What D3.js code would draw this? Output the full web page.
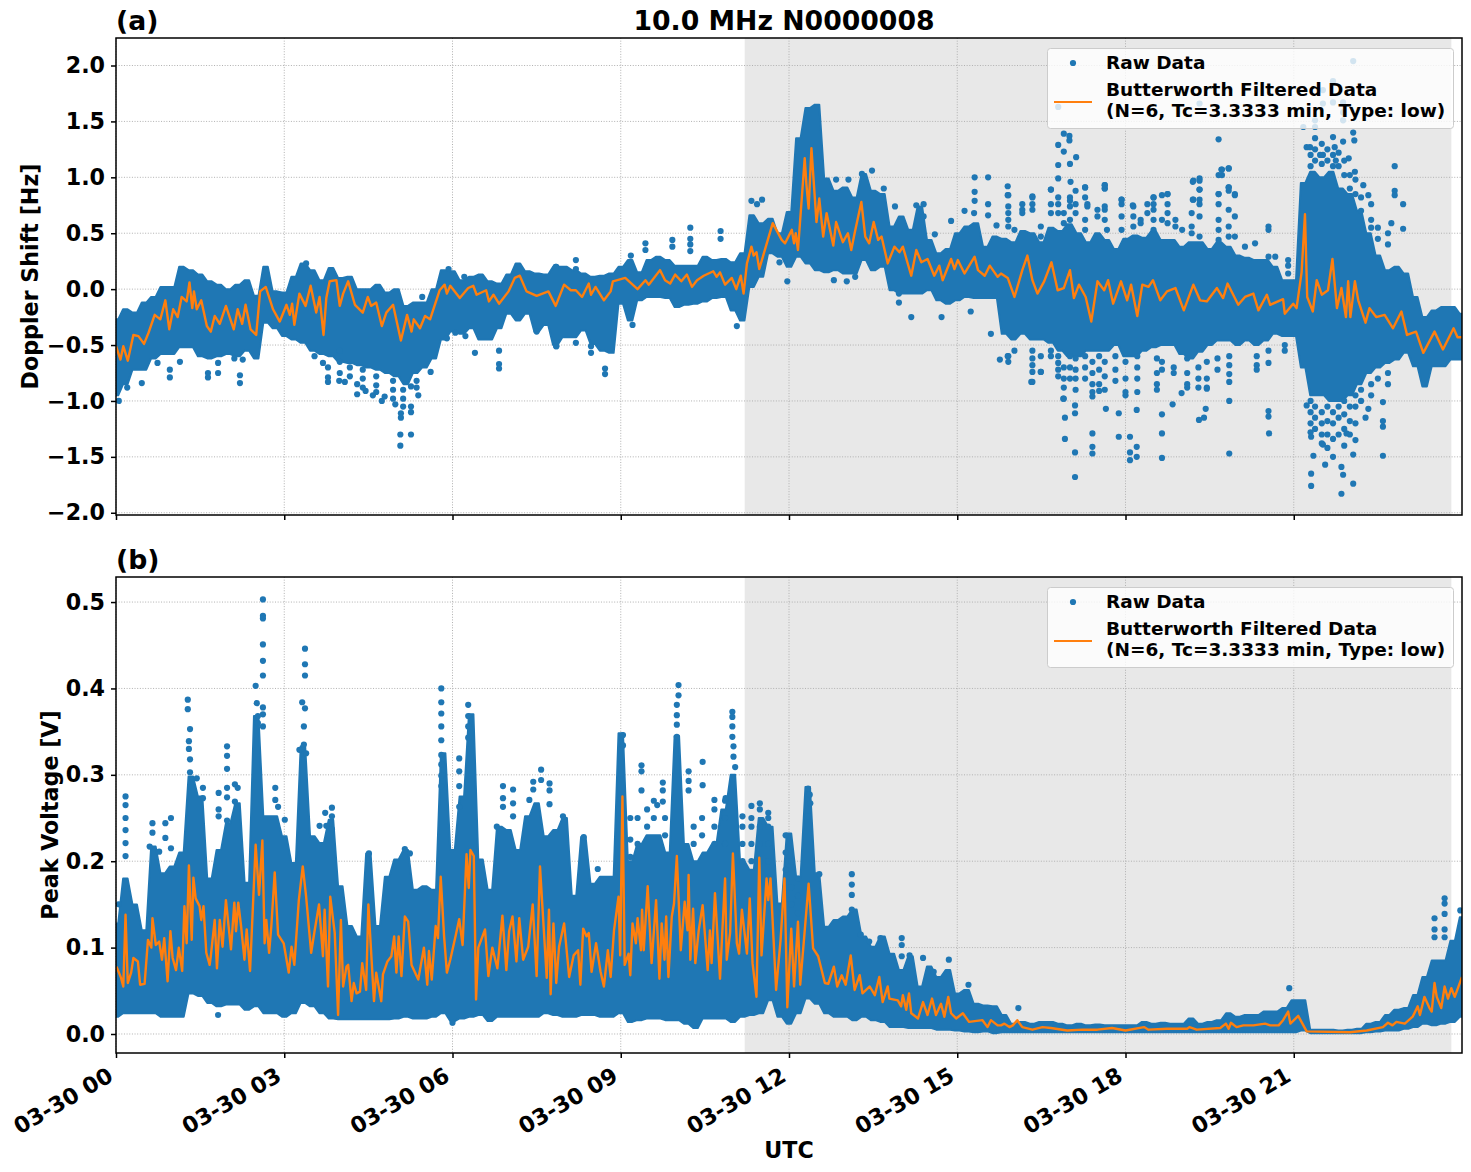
<!DOCTYPE html>
<html>
<head>
<meta charset="utf-8">
<script src="https://cdn.jsdelivr.net/npm/d3@7"></script>
<style>
html,body{margin:0;padding:0;background:#fff}
svg{display:block}
text{font-family:"DejaVu Sans",sans-serif;font-weight:700;fill:#000}
</style>
</head>
<body>
<svg id="fig" width="1471" height="1172"></svg>
<script>
// Tick positions and labels
const hourTicks = [0,3,6,9,12,15,18,21];
const dopplerTicks = [-2,-1.5,-1,-0.5,0,0.5,1,1.5,2];
const voltageTicks = [0,0.1,0.2,0.3,0.4,0.5];
const nightStartHour = 11.21, nightEndHour = 23.81;

// Doppler shift: dense range of the raw samples, one entry per 10 minutes
const dopplerHigh = [-.27,-.18,-.21,-.12,-.07,.02,.02,.2,.17,.13,.07,.04,0,.04,.08,-.06,.2,-.02,-.03,.11,.23,.17,.08,.19,.1,.11,0,0,.04,-.03,0,-.15,-.12,-.12,0,.17,.16,.08,.11,.13,.07,.05,.13,.23,.16,.14,.13,.2,
 .2,.17,.14,.11,.12,.14,.2,.26,.15,.26,.29,.26,.21,.21,.21,.29,.26,.27,.24,.32,.66,.59,.63,.5,.69,1.35,1.62,1.65,.99,.88,.91,.82,1.03,.88,.85,.56,.65,.53,.74,.44,.32,.36,.5,.56,.59,.38,.47,
 .45,.42,.52,.5,.42,.55,.52,.58,.5,.42,.5,.44,.36,.45,.48,.46,.52,.44,.44,.38,.42,.42,.36,.42,.38,.3,.28,.26,.26,.2,.08,.08,.95,1.05,1,1.05,.9,.85,.7,.5,.3,.17,.2,.14,-.07,-.25,-.19,-.16,-.16,-.22];
const dopplerLow = [-.95,-.85,-.72,-.72,-.62,-.58,-.58,-.52,-.52,-.6,-.62,-.6,-.58,-.6,-.55,-.62,-.3,-.35,-.42,-.45,-.48,-.55,-.58,-.6,-.65,-.66,-.68,-.7,-.72,-.75,-.78,-.85,-.75,-.7,-.62,-.45,-.38,-.4,-.35,-.45,-.45,-.35,-.22,-.28,-.22,-.38,-.32,-.5,
 -.43,-.43,-.37,-.49,-.55,-.57,-.13,-.28,-.1,-.07,-.07,-.08,-.16,-.14,-.13,-.11,-.08,-.07,-.19,-.28,.02,.11,.32,.29,.2,.29,.23,.17,.15,.17,.14,.14,.26,.17,.2,-.01,-.04,-.04,-.04,-.01,-.1,-.13,-.1,-.07,-.08,-.08,-.08,
 -.4,-.45,-.4,-.45,-.45,-.48,-.55,-.6,-.6,-.55,-.55,-.55,-.5,-.6,-.6,-.55,-.52,-.5,-.5,-.58,-.62,-.56,-.5,-.46,-.46,-.5,-.46,-.5,-.46,-.4,-.42,-.42,-.7,-.95,-.95,-1,-1,-.95,-.85,-.75,-.7,-.66,-.63,-.57,-.69,-.87,-.69,-.69,-.63,-.63];

// Doppler shift: individual samples standing clear of the dense range [hour, Hz]
const dopplerStray = [[16.8,1.63],[16.9,1.39],[17,1.37],[17,1.33],[16.8,1.29],[16.9,1.23],[17.12,1.18],[17.01,1.12],[16.8,1.11],[16.8,.99],[17.02,.96],[15.9,.92],[15.9,.84],[16.34,.83],[16.67,.89],[17.28,.91],[17.63,.93],[17.63,.9],[17.93,.8],[18.13,.75],[18.5,.82],[18.75,.85],[19.2,.96],[19.32,.99],[19.32,.89],[19.2,.8],[19.66,1.34],[19.71,1.07],[19.66,1.02],[19.84,1.08],[19.84,.91],[19.95,.85],[19.66,.85],[19.32,1.66],[22.8,1.1],[22.8,.88],[22.8,.84],[22.95,.76],[22.74,.59],[22.95,.54],[22.38,.76],[22.33,.84],[22.24,.93],[22.09,1.05],
 [21.47,1.2],[21.7,1.86],[21.52,1.78],[21.7,1.67],[21.38,1.45],[21.88,1.51],[22.06,1.4],[22.08,1.33],[21.7,1.36],[21.38,1.35],[21.23,1.27],[21.88,1.32],[21.98,1.17],[21.73,1.27],[21.29,1.27],[21.52,1.2],[21.75,1.15],[22.06,2.04],[21.88,1.67],[21.88,1.58],[21.52,1.66],[21.38,1.51],[21.17,1.45],
 [17.1,-1.68],[17.1,-1.46],[16.92,-1.34],[16.92,-1.15],[17.1,-1.11],[17.1,-1.04],[17.41,-1.29],[17.41,-1.41],[17.41,-1.47],[17.88,-1.32],[18.08,-1.32],[18.08,-1.46],[18.08,-1.53],[18.2,-1.41],[18.2,-1.5],[18.65,-1.51],[18.65,-1.29],[18.65,-1.12],[18.2,-1.08],[17.88,-1.11],[17.65,-1.07],[16.89,-.98],[19.85,-1.47],[19.85,-1],[20.56,-1.29],[20.55,-1.14],[20.55,-1.09],[19.31,-1.17],[19.4,-1.15],[19.43,-1.07],[18.84,-1.03],[19,-.93],[19.1,-.88],[19.45,-.89],[18,-.95],[17.41,-.96],[17.53,-.91],[16.32,-.83],[16.49,-.74],
 [21.31,-1.65],[21.31,-1.76],[21.85,-1.83],[21.88,-1.66],[22.06,-1.74],[21.85,-1.59],[21.56,-1.57],[21.35,-1.49],[21.7,-1.5],[22.06,-1.48],[22.59,-1.49],[22.59,-1.23],[22.59,-1.18],[22.59,-1.01],[22.28,-1.15],[22.33,-1.07],[21.52,-1.39],[21.31,-1.32],[21.94,-1.29],[21.23,-1.04],[15.9,-.6],
 [11.33,.79],[11.43,.76],[11.52,.8],[10.24,.55],[10.78,.52],[10.78,.45],[10.24,.45],[10.24,.4],[10.24,.34],[9.92,.44],[9.92,.38],[9.44,.41],[9.44,.35],[9.18,.3],[8.2,.26],[8.2,.18],[7.85,.2],[8.72,-.71],[8.72,-.76],[8.47,-.51],[8.47,-.57],[7.85,-.51],[8.2,-.48],[11.07,-.33],[9.21,-.32],[12.8,.08],[11.97,.07],[13.03,.07],[13.18,.11],[14.18,-.25],[13.96,-.12],[13.96,-.04],[14.72,-.25],[15.24,-.2],[15.6,-.4],[15.76,-.63],[15.55,1],[15.31,1],[15.31,.87],[13.48,1.06],[13.3,1.03],[13.69,.9],[12.84,.98],[13.06,.98],[13.89,.74],[14.27,.75],[14.4,.76],[14.6,.49],[14.89,.61],[15.13,.7],[15.55,.76],[15.55,.66],[15.7,.57],[14.4,.65],[15.3,.68],[15.31,.79],[11.83,.24],
 [.05,-1],[.74,-.66],[.96,-.79],[.96,-.72],[1.14,-.65],[.46,-.84],[.2,-.88],[1.64,-.79],[1.64,-.75],[1.82,-.75],[1.82,-.66],[2.21,-.84],[2.21,-.77],[2.26,-.63],[2.11,-.62],[3.39,.23],[5.93,.18],[6.21,.11],[7.84,.2],[5.46,-.07],[3.78,-.7],[3.78,-.79],[3.78,-.83],[3.98,-.82],[4.08,-.83],[4.3,-.94],[4.3,-.85],[4.58,-.95],[4.74,-1],[4.79,-.96],[4.98,-1.03],[5.08,-1.15],[5.08,-1.11],[5.07,-1.3],[5.07,-1.4],[5.26,-1.3],[5.26,-1.05],[5.26,-1.1],[5.39,-.95],[5.26,-.87],[5.61,-.74],[5.9,-.44],[6.4,-.57],[6.83,-.55],[6.83,-.67],[6.83,-.71],[6.05,-.39],[6.23,-.42],[3.54,-.6],[3.69,-.66],[7.5,-.38],[7.85,-.51],[4.45,-.91],
 [3.99,-.55],[3.99,-.65],[3.99,-.75],[4.17,-.7],[4.17,-.78],[4.4,-.72],[4.4,-.8],[4.4,-.88],[4.64,-.78],[4.64,-.86],[4.64,-.92],[4.94,-.82],[4.94,-.9],[4.94,-.98],[5.12,-.9],[5.12,-.98],[5.12,-1.05],[5.36,-.82],[5.36,-.88]];

// Doppler shift: sparse samples around the dense range, 16-21 UT, [hour, [Hz...]]
const dopplerSparse = [[15.91,[.56,.62,.68,.74,.84,-.6,-.65]],[16.02,[.53,-.55]],[16.16,[.68,.71,.76]],[16.34,[.71,.76,.82,-.55,-.62,-.68,-.74,-.83]],[16.49,[.47,.56,-.6,-.74]],[16.67,[.68,.76,.89,-.55,-.6]],[16.8,[.68,.76,.82,-.6,-.66,-.72,-.78]],[16.9,[.59,.68,-.7,-.8,-.88,-.98]],[17.01,[.62,.74,.79,.82,-.6,-.7,-.8]],[17.11,[.68,.76,.88,-.62,-.72,-.8,-.9]],[17.28,[.53,.62,.82,.91,-.6,-.7,-.8]],[17.32,[.74,.76]],[17.41,[-.65,-.75,-.85,-.92]],[17.5,[.65,.71]],[17.53,[-.6,-.72,-.85]],[17.63,[.62,.71,.74,.9,.93,-.65,-.78,-.9]],[17.67,[.53]],[17.82,[-.6,-.72,-.82]],[17.93,[.53,.65,.76,.8]],[18,[-.65,-.8,-.92]],[18.14,[.56,.65,.74]],[18.21,[-.6,-.7,-.8,-.92]],[18.27,[.59,.62]],[18.39,[.68,.76]],[18.5,[.53,.62,.71,.76,.82]],[18.56,[-.62,-.75,-.85,-.9]],[18.65,[.62,.84,-.65,-.72]],[18.75,[.59,.68,.76,.85]],[18.86,[-.7,-.75]],[18.89,[.56,.62]],[19.01,[.53]],[19.1,[-.62,-.75,-.85]],[19.18,[.5,.56,.68]],[19.21,[.8,.97]],[19.3,[-.7,-.8,-.88]],[19.32,[.47,.65,.76,.8,.89,.97]],[19.45,[-.65,-.8,-.88]],[19.64,[-.62,-.72]],[19.66,[.44,.53,.62,.76,.85]],[19.72,[1.02,1.07]],[19.84,[.47,.56,.71,.88,.91,1.08]],[19.85,[-.6,-.68,-.76,-.83]],[19.95,[.47,.65,.84]],[20.13,[.38]],[20.31,[.41]],[20.34,[-.6,-.68,-.72]],[20.55,[.29,.53,.56,-.55,-.66]],[20.67,[.29]],[20.84,[-.5,-.55]],[20.9,[.14,.21,.26]],
 [21.3,[1.1,1.2,-1,-1.1,-1.2,-1.28]],[21.38,[1.15,1.25,-1.05,-1.15,-1.25]],[21.5,[1.12,1.3,-1.1,-1.2,-1.3,-1.38]],[21.6,[1.15,1.25,-1.05,-1.18,-1.3,-1.42]],[21.7,[1.1,1.2,-1.1,-1.2,-1.34]],[21.8,[1.1,1.22,-1.05,-1.15,-1.3]],[21.9,[1.02,1.15,-1,-1.12,-1.25,-1.4]],[22,[.9,1.02,-1.05,-1.18,-1.3]],[22.1,[.85,.98,-.95,-1.05,-1.2,-1.35]],[22.2,[.7,.82,-.9,-1]],[22.38,[.55,.62,-.85,-.95]],[22.5,[.45,.55,-.8]],[22.68,[.4,.5,-.75,-.85]]];

// Doppler shift: low-pass filtered trace [hour, Hz]
const dopplerFiltered = [[0,-.51],[.08,-.63],[.13,-.51],[.21,-.64],[.31,-.41],[.4,-.42],[.5,-.49],[.58,-.39],[.69,-.23],[.79,-.27],[.88,-.1],[.95,-.36],[1.02,-.18],[1.1,-.25],[1.17,-.07],[1.26,-.11],[1.31,.06],[1.36,-.17],[1.39,-.02],[1.44,-.18],[1.52,-.1],[1.62,-.33],[1.69,-.38],[1.76,-.24],[1.85,-.31],[1.96,-.15],[2.1,-.36],[2.17,-.18],[2.25,-.31],[2.31,-.14],[2.4,-.36],[2.5,-.41],[2.57,-.02],[2.67,.02],[2.8,-.18],[2.92,-.29],[3.04,-.14],[3.1,-.23],[3.14,-.13],[3.18,-.32],[3.27,-.04],[3.38,-.15],[3.47,.03],[3.57,-.21],[3.63,-.07],[3.7,-.41],[3.75,-.08],[3.81,.07],[3.93,.08],[3.99,-.15],[4.05,-.04],[4.14,.07],[4.26,-.14],[4.4,-.21],[4.49,-.07],[4.55,-.15],[4.64,-.12],[4.74,-.33],[4.82,-.21],[4.94,-.14],[5.08,-.46],[5.19,-.23],[5.27,-.38],[5.31,-.27],[5.42,-.35],[5.51,-.24],[5.6,-.27],[5.77,-.01],[5.86,.04],[5.9,-.04],[5.96,.03],[6.13,-.08],[6.28,.01],[6.37,.03],[6.43,-.05],[6.6,-.01],[6.65,-.11],[6.73,-.05],[6.83,-.13],[7,-.02],[7.11,.1],[7.2,.12],[7.32,-.02],[7.5,-.06],[7.71,-.02],[7.84,-.15],
 [7.99,.04],[8.11,-.01],[8.2,-.01],[8.31,-.07],[8.43,.05],[8.47,-.05],[8.55,.02],[8.7,-.1],[8.82,-.02],[8.86,.07],[9.08,.1],[9.3,0],[9.44,.08],[9.5,.04],[9.7,.17],[9.79,.08],[9.88,.05],[9.97,.13],[10.08,.07],[10.18,.13],[10.27,.02],[10.36,.08],[10.48,.12],[10.65,.16],[10.71,.11],[10.77,.15],[10.86,.04],[10.98,.1],[11.06,0],[11.14,.12],[11.19,-.04],[11.25,.23],[11.33,.38],[11.37,.3],[11.42,.33],[11.47,.18],[11.54,.3],[11.71,.59],[11.87,.44],[11.93,.41],[12.05,.53],[12.09,.41],[12.12,.5],[12.16,.35],[12.28,1.17],[12.31,.94],[12.35,.72],[12.4,1.26],[12.49,.6],[12.54,.81],[12.61,.47],[12.67,.68],[12.79,.39],[12.84,.6],[12.96,.42],[13.05,.5],[13.11,.35],[13.17,.5],[13.29,.78],[13.36,.47],[13.43,.41],[13.51,.6],[13.59,.44],[13.65,.47],[13.76,.23],[13.88,.38],[13.97,.33],[14.03,.38],[14.18,.12],[14.27,.35],[14.36,.24],[14.47,.27],[14.59,.12],[14.68,.21],[14.74,.08],[14.89,.27],[14.95,.18],[15.01,.26],[15.13,.14],[15.31,.29],[15.37,.17],[15.49,.12],[15.58,.21],[15.72,.11],
 [15.78,.14],[15.9,.1],[16.02,-.07],[16.16,.17],[16.25,.3],[16.34,.08],[16.43,-.04],[16.55,.07],[16.68,.24],[16.79,-.01],[16.9,.01],[17.01,.17],[17.08,-.08],[17.17,.04],[17.29,-.07],[17.39,-.29],[17.5,.07],[17.62,-.01],[17.69,.08],[17.78,-.13],[17.92,.07],[18.03,-.1],[18.1,.04],[18.21,-.24],[18.3,.04],[18.41,.02],[18.49,.08],[18.62,-.1],[18.74,-.02],[18.89,.01],[19.04,-.19],[19.21,.04],[19.33,-.1],[19.45,-.11],[19.63,.01],[19.74,-.08],[19.82,.05],[20.01,-.14],[20.13,-.07],[20.28,-.04],[20.37,-.19],[20.52,-.05],[20.58,-.14],[20.81,-.09],[20.84,-.22],[20.99,-.13],[21.05,-.17],[21.14,.15],[21.2,.67],[21.24,-.07],[21.34,-.2],[21.41,.08],[21.5,-.05],[21.61,-.01],[21.69,.27],[21.77,-.17],[21.85,.01],[21.93,-.25],[21.97,.07],[22.01,-.25],[22.09,.07],[22.15,-.1],[22.28,-.3],[22.35,-.17],[22.47,-.25],[22.62,-.23],[22.77,-.35],[22.92,-.2],[23.02,-.41],[23.18,-.38],[23.31,-.57],[23.51,-.38],[23.66,-.54],[23.85,-.35],[23.92,-.43],[24,-.43]];

// Peak voltage: dense range of the raw samples, one entry per 10 minutes
const voltageHigh = [.128,.18,.15,.12,.217,.186,.194,.21,.298,.275,.18,.213,.244,.267,.175,.368,.252,.252,.229,.198,.333,.229,.221,.248,.171,.125,.113,.209,.125,.182,.202,.213,.167,.171,.167,.325,.213,.275,.37,.202,.167,.24,.236,.213,.252,.267,.229,.236,
 .25,.16,.228,.174,.182,.182,.348,.2,.22,.23,.23,.21,.345,.22,.2,.21,.22,.26,.3,.2,.19,.25,.24,.151,.232,.182,.286,.186,.124,.132,.136,.144,.113,.101,.113,.093,.074,.09,.055,.078,.066,.074,.047,.051,.035,.033,.032,
 .022,.012,.014,.012,.014,.014,.012,.01,.012,.01,.011,.01,.01,.01,.01,.014,.012,.013,.012,.012,.018,.012,.014,.016,.024,.02,.022,.022,.026,.026,.03,.039,.039,.005,.005,.005,.004,.005,.006,.012,.014,.022,.028,.03,.045,.066,.085,.085,.108,.135];
const voltageLow = [.02,.024,.024,.024,.024,.02,.02,.02,.047,.044,.036,.032,.034,.034,.028,.032,.024,.024,.02,.024,.036,.032,.024,.018,.017,.017,.017,.017,.017,.017,.018,.02,.018,.018,.02,.024,.015,.018,.02,.022,.015,.02,.02,.02,.02,.02,.024,.022,
 .02,.02,.022,.022,.02,.02,.024,.014,.016,.018,.018,.016,.016,.012,.007,.018,.018,.018,.014,.02,.022,.024,.039,.02,.012,.024,.041,.035,.024,.02,.02,.016,.02,.016,.014,.008,.008,.007,.007,.007,.005,.005,.004,.003,.002,.003,.001,
 .002,.002,.002,.002,.002,.002,.002,.002,.002,.002,.002,.002,.002,.002,.002,.002,.002,.002,.002,.002,.002,.002,.002,.002,.002,.002,.002,.002,.002,.002,.002,.002,.004,.001,.001,.001,.001,.001,.001,.002,.003,.004,.004,.006,.008,.012,.01,.012,.014,.02];

// Peak voltage: individual samples standing clear of the dense range [hour, V]
const voltageStray = [[.17,.275],[.17,.265],[.17,.25],[.17,.236],[.17,.221],[.17,.206],[.05,.15],[.65,.244],[.65,.233],[.6,.217],[.77,.211],[.88,.244],[.98,.25],[.88,.227],[.98,.215],[1.28,.387],[1.28,.376],[1.32,.353],[1.3,.339],[1.3,.33],[1.32,.318],[1.32,.303],[1.44,.296],[1.55,.285],[1.55,.273],[1.98,.333],[1.98,.322],[1.98,.307],[1.98,.285],[1.98,.274],[1.98,.247],[1.83,.279],[1.83,.26],[1.83,.252],[2.12,.289],[2.17,.285],[2.12,.269],
 [2.62,.503],[2.62,.484],[2.62,.481],[2.62,.451],[2.62,.432],[2.62,.415],[2.49,.403],[2.51,.383],[2.62,.378],[2.62,.37],[2.53,.368],[2.53,.36],[2.62,.356],[3.37,.446],[3.37,.428],[3.37,.415],[3.32,.384],[3.37,.377],[3.35,.356],[3.35,.335],[3.27,.329],[3.39,.325],[2.84,.285],[2.84,.271],[2.89,.263],[3.01,.248],[3.73,.256],[3.85,.262],[3.85,.252],[3.63,.241],[3.75,.241],[3.85,.237],[4.51,.209],[5.15,.214],[5.24,.209],
 [5.8,.4],[5.8,.384],[5.8,.371],[5.8,.356],[5.8,.34],[5.8,.323],[5.8,.312],[5.8,.299],[5.8,.287],[6.12,.319],[6.12,.304],[6.12,.287],[6.12,.263],[6.28,.381],[6.28,.368],[6.28,.356],[6.28,.343],[6.9,.287],[6.9,.273],[6.9,.263],[7.08,.283],[7.08,.267],[7.08,.252],[7.44,.292],[7.44,.283],[7.58,.306],[7.58,.294],[7.73,.29],[7.73,.282],[7.73,.266],[7.37,.271],[6.79,.24],[1.82,.022],[6,.013],
 [10.03,.404],[10.03,.392],[10,.381],[10,.369],[10,.358],[10,.344],[10.99,.373],[10.99,.367],[10.99,.356],[10.99,.344],[11.01,.333],[11.01,.321],[11.04,.309],[9.04,.346],[9.04,.334],[9.37,.311],[9.37,.304],[9.37,.282],[10.46,.315],[10.46,.288],[10.21,.304],[9.75,.291],[9.75,.282],[9.75,.269],[9.65,.265],[10.21,.293],[10.21,.282],[10.67,.271],[10.87,.273],[11.17,.252],[11.33,.264],[11.48,.267],[11.63,.256],[8.34,.228],[8.59,.191],[7.97,.252],
 [12.34,.284],[12.37,.277],[12.38,.267],[12.34,.252],[13.12,.185],[13.12,.173],[13.12,.161],[13.12,.144],[12.54,.185],[14.01,.111],[14.01,.103],[14.01,.09],[13.28,.115],[13.43,.107],[13.63,.111],[14.39,.088],[14.85,.086],[15.2,.057],[14.58,.072],[14.15,.091],[23.69,.157],[23.69,.151],[23.51,.134],[23.51,.121],[23.69,.139],[23.69,.121],[23.69,.112],[23.51,.112],[23.97,.143],[20.92,.053],[16.09,.03]];

// Peak voltage: sparse sample stacks above the dense range, [hour, [V...]]
const voltageSparse = [[9.17,[.205,.225,.25]],[9.3,[.22,.25]],[9.47,[.24,.26]],[9.59,[.25,.27]],[9.79,[.23,.25]],[10.3,[.22,.24]],[10.45,[.23,.25]],[10.67,[.22,.24,.26]],[10.86,[.22,.25,.27]],[11.17,[.2,.22,.24]],[11.33,[.2,.22,.24,.25]],[11.48,[.2,.22,.24,.26]],[11.63,[.2,.22,.24,.25]],[11.94,[.17,.19,.21,.23]],[12.04,[.15,.17,.2]],[12.16,[.14,.16,.18]]];

// Peak voltage: low-pass filtered trace [hour, V]
const voltageFiltered = [[.01,.078],[.09,.065],[.13,.055],[.17,.138],[.21,.059],[.27,.071],[.31,.088],[.39,.084],[.43,.057],[.51,.058],[.57,.109],[.63,.1],[.65,.134],[.71,.103],[.77,.107],[.82,.086],[.86,.111],[.92,.061],[.97,.119],[1.01,.088],[1.07,.074],[1.12,.1],[1.18,.073],[1.22,.148],[1.26,.105],[1.3,.195],[1.35,.109],[1.38,.181],[1.42,.157],[1.49,.148],[1.52,.132],[1.56,.148],[1.61,.094],[1.67,.08],[1.69,.09],[1.76,.132],[1.8,.076],[1.85,.132],[1.9,.101],[1.96,.155],[2.05,.098],[2.11,.152],[2.14,.119],[2.18,.152],[2.23,.125],[2.29,.086],[2.33,.121],[2.39,.073],[2.49,.219],[2.55,.161],[2.61,.224],[2.65,.105],[2.68,.132],[2.73,.094],[2.77,.125],[2.83,.187],[2.89,.115],[2.99,.105],[3.08,.071],[3.13,.101],[3.18,.08],[3.26,.155],[3.33,.194],[3.39,.159],[3.48,.094],[3.54,.119],[3.62,.15],[3.69,.09],[3.72,.144],[3.78,.055],[3.82,.159],[3.9,.117],[3.96,.022],[4.01,.132],[4.05,.055],[4.11,.078],[4.14,.08],[4.2,.038],[4.24,.059],[4.29,.047],[4.35,.049],[4.39,.082],[4.46,.051],[4.5,.15],[4.6,.038],[4.64,.071],[4.73,.038],[4.76,.069],[4.84,.084],[4.91,.09],[4.96,.113],[5,.071],[5.04,.113],[5.09,.067],[5.15,.136],[5.21,.13],[5.27,.08],[5.39,.063],[5.49,.1],[5.55,.057],[5.58,.096],[5.63,.063],[5.7,.125],[5.74,.111],[5.79,.182],[5.85,.113],[5.9,.071],[5.96,.086],[6.06,.115],[6.12,.133],[6.18,.103],[6.25,.208],[6.29,.169],[6.32,.213],[6.38,.206],[6.42,.04],[6.46,.1],[6.58,.121],[6.64,.067],[6.71,.1],[6.8,.076],[6.89,.137],[6.96,.074],[7.01,.119],[7.07,.136],[7.14,.084],[7.19,.134],[7.26,.086],[7.35,.101],[7.43,.15],[7.5,.067],[7.56,.194],[7.68,.065],[7.72,.144],[7.75,.046],[7.8,.128],[7.85,.059],[7.9,.101],[7.99,.128],
 [8.08,.066],[8.16,.091],[8.24,.097],[8.28,.057],[8.33,.122],[8.39,.113],[8.43,.117],[8.48,.072],[8.56,.105],[8.64,.072],[8.7,.055],[8.77,.097],[8.82,.066],[8.88,.12],[8.96,.159],[8.99,.091],[9.03,.275],[9.07,.08],[9.14,.093],[9.17,.068],[9.21,.128],[9.27,.105],[9.3,.134],[9.36,.097],[9.38,.144],[9.41,.097],[9.48,.171],[9.55,.082],[9.63,.155],[9.69,.064],[9.73,.128],[9.78,.086],[9.81,.136],[9.85,.066],[9.91,.136],[9.95,.151],[10,.206],[10.07,.097],[10.14,.153],[10.19,.12],[10.21,.184],[10.24,.086],[10.29,.145],[10.33,.082],[10.39,.12],[10.46,.149],[10.55,.074],[10.59,.12],[10.62,.082],[10.68,.163],[10.77,.064],[10.81,.117],[10.86,.18],[10.89,.086],[10.95,.117],[11,.209],[11.07,.105],[11.11,.093],[11.16,.144],[11.25,.093],[11.3,.157],[11.35,.082],[11.42,.043],[11.47,.204],[11.51,.091],[11.6,.18],[11.63,.155],[11.67,.18],[11.77,.051],[11.85,.109],[11.92,.18],[11.97,.031],[12.04,.122],[12.09,.055],[12.16,.13],[12.2,.057],[12.35,.174],[12.43,.099],[12.52,.09],[12.64,.059],[12.7,.058],[12.8,.078],[12.86,.055],[12.94,.068],[13.01,.057],[13.1,.091],[13.17,.051],[13.26,.068],[13.31,.047],[13.44,.055],[13.53,.045],[13.61,.066],[13.67,.037],[13.76,.055],[13.79,.041],[13.94,.039],[14,.032],[14.03,.045],[14.09,.028],[14.14,.047],[14.18,.024],[14.3,.018],[14.39,.037],[14.47,.022],[14.55,.041],[14.62,.022],[14.71,.035],[14.77,.02],[14.84,.043],[14.89,.024],[14.98,.018],[15.1,.024],[15.21,.014],[15.45,.016],[15.54,.008],[15.6,.016],[15.72,.01],
 [15.78,.01],[15.84,.012],[15.93,.008],[15.99,.01],[16.07,.016],[16.16,.008],[16.34,.005],[16.52,.008],[16.67,.007],[16.96,.004],[17.23,.005],[17.5,.005],[17.76,.007],[18,.004],[18.33,.008],[18.41,.005],[18.74,.006],[19.1,.006],[19.14,.008],[19.27,.005],[19.69,.007],[19.79,.012],[19.84,.006],[19.88,.013],[19.98,.008],[20.1,.01],[20.28,.01],[20.49,.012],[20.58,.01],[20.73,.01],[20.81,.016],[20.9,.026],[20.94,.012],[21.08,.021],[21.23,.003],[22,.002],[22.3,.004],[22.59,.008],[22.68,.013],[22.76,.01],[22.83,.014],[22.98,.012],[23.12,.02],[23.21,.032],[23.25,.022],[23.33,.043],[23.42,.03],[23.46,.026],[23.51,.059],[23.55,.043],[23.63,.03],[23.69,.055],[23.75,.041],[23.81,.053],[23.87,.043],[24,.066]];

const legendRaw = "Raw Data";
const legendFiltered = ["Butterworth Filtered Data", "(N=6, Tc=3.3333 min, Type: low)"];

const BLUE = "#1f77b4", ORANGE = "#ff7f0e";
const svg = d3.select("#fig");
const left = 116, right = 1462, BIN_MINUTES = 10;
// half width of a bin's plateau, in hours; about one sample dot across
const PLATEAU_HOURS = 0.04;
const dayStart = Date.UTC(2024, 2, 30);
const toDate = h => new Date(dayStart + h * 3600e3);
const x = d3.scaleUtc().domain([toDate(0), toDate(24)]).range([left, right]);

function panel(cfg, idx) {
  const y = d3.scaleLinear().domain(cfg.domain).range([cfg.bottom, cfg.top]);
  const g = svg.append("g");
  const clipId = "clip" + idx;
  svg.append("clipPath").attr("id", clipId).append("rect")
    .attr("x", left).attr("y", cfg.top).attr("width", right - left).attr("height", cfg.bottom - cfg.top);

  // Daylight-terminator shading
  g.append("rect").attr("x", x(toDate(nightStartHour))).attr("width", x(toDate(nightEndHour)) - x(toDate(nightStartHour)))
    .attr("y", cfg.top).attr("height", cfg.bottom - cfg.top).attr("fill", "#e8e8e8");

  // Grid
  const grid = g.append("g").attr("stroke", "#b0b0b0").attr("stroke-width", 1).attr("stroke-dasharray", "1 1.65");
  grid.selectAll(".gx").data(hourTicks).join("line")
    .attr("x1", h => x(toDate(h))).attr("x2", h => x(toDate(h))).attr("y1", cfg.top).attr("y2", cfg.bottom);
  grid.selectAll(".gy").data(cfg.ticks).join("line")
    .attr("x1", left).attr("x2", right).attr("y1", v => y(v)).attr("y2", v => y(v));

  const plot = g.append("g").attr("clip-path", `url(#${clipId})`);

  // Raw samples: the dense range, each bin holding a narrow plateau so lone
  // bursts keep the width of a stacked column of dots
  const rows = cfg.high.flatMap((hi, i) => {
    const h = i * BIN_MINUTES / 60;
    return [{h: h - PLATEAU_HOURS, hi, lo: cfg.low[i]}, {h: h + PLATEAU_HOURS, hi, lo: cfg.low[i]}];
  });
  const area = d3.area().x(d => x(toDate(d.h))).y0(d => y(d.lo)).y1(d => y(d.hi));
  plot.append("path").attr("d", area(rows)).attr("fill", BLUE).attr("stroke", BLUE)
    .attr("stroke-width", 2).attr("stroke-linejoin", "round");

  // Raw samples outside the dense range
  const stray = cfg.stray.concat(cfg.sparse.flatMap(([h, vs]) => vs.map(v => [h, v])));
  plot.selectAll("circle").data(stray).join("circle")
    .attr("cx", d => x(toDate(d[0]))).attr("cy", d => y(d[1])).attr("r", 3.1).attr("fill", BLUE);

  // Filtered trace
  const line = d3.line().x(d => x(toDate(d[0]))).y(d => y(d[1]));
  plot.append("path").attr("d", line(cfg.filtered)).attr("fill", "none")
    .attr("stroke", ORANGE).attr("stroke-width", 2.4).attr("stroke-linejoin", "round");

  // Axes
  const ya = d3.axisLeft(y).tickValues(cfg.ticks).tickSize(5).tickPadding(6).tickFormat(v => d3.format(".1f")(v).replace("-", "\u2212"));
  const yg = svg.append("g").attr("transform", `translate(${left},0)`).call(ya);
  yg.selectAll("text").style("font-size", "22.2px");
  yg.selectAll("line").attr("stroke-width", 1.5).attr("stroke", "#000");
  yg.select(".domain").remove();

  const xa = d3.axisBottom(x).tickValues(hourTicks.map(toDate)).tickSize(5)
    .tickFormat(cfg.xLabels ? d3.utcFormat("%m-%d %H") : "");
  const xg = svg.append("g").attr("transform", `translate(0,${cfg.bottom})`).call(xa);
  xg.selectAll("line").attr("stroke-width", 1.5).attr("stroke", "#000");
  xg.select(".domain").remove();
  if (cfg.xLabels) {
    xg.selectAll("text").style("font-size", "22.2px").attr("text-anchor", "end")
      .attr("dx", null).attr("dy", null).attr("y", null).attr("x", null)
      .attr("transform", "translate(-2,27) rotate(-30)");
  } else xg.selectAll("text").remove();

  // Frame
  svg.append("rect").attr("x", left).attr("y", cfg.top).attr("width", right - left).attr("height", cfg.bottom - cfg.top)
    .attr("fill", "none").attr("stroke", "#000").attr("stroke-width", 1.5);

  // Panel letter
  svg.append("text").attr("x", left).attr("y", cfg.top - 8).text(cfg.letter).style("font-size", "26.7px");

  // Axis label
  svg.append("text").attr("transform", `translate(${cfg.labelX},${(cfg.top + cfg.bottom) / 2}) rotate(-90)`)
    .attr("text-anchor", "middle").text(cfg.label).style("font-size", "22.2px");

  // Legend
  const lg = svg.append("g").attr("transform", `translate(1047,${cfg.top + 10})`);
  lg.append("rect").attr("x", .5).attr("y", .5).attr("width", 406).attr("height", 80).attr("rx", 3)
    .attr("fill", "#fff").attr("fill-opacity", .8).attr("stroke", "#ccc").attr("stroke-width", 1);
  lg.append("circle").attr("cx", 26).attr("cy", 15).attr("r", 3.1).attr("fill", BLUE);
  lg.append("text").attr("x", 59).attr("y", 21).text(legendRaw).style("font-size", "18.5px");
  lg.append("line").attr("x1", 7).attr("x2", 45).attr("y1", 54).attr("y2", 54).attr("stroke", ORANGE).attr("stroke-width", 2.2);
  lg.selectAll(".lf").data(legendFiltered).join("text").attr("x", 59).attr("y", (d, i) => 48 + i * 21.3).text(d => d).style("font-size", "18.5px");
}

panel({domain:[-2.02,2.246], top:38, bottom:515, ticks:dopplerTicks, high:dopplerHigh, low:dopplerLow, stray:dopplerStray, sparse:dopplerSparse, filtered:dopplerFiltered, letter:"(a)", label:"Doppler Shift [Hz]", labelX:38, xLabels:false}, 0);
panel({domain:[-.022,.529], top:577, bottom:1053, ticks:voltageTicks, high:voltageHigh, low:voltageLow, stray:voltageStray, sparse:voltageSparse, filtered:voltageFiltered, letter:"(b)", label:"Peak Voltage [V]", labelX:58, xLabels:true}, 1);

svg.append("text").attr("x", 784).attr("y", 30).attr("text-anchor", "middle").text("10.0 MHz N0000008").style("font-size", "26.7px");
svg.append("text").attr("x", 789).attr("y", 1158).attr("text-anchor", "middle").text("UTC").style("font-size", "22.2px");
</script>
</body>
</html>
